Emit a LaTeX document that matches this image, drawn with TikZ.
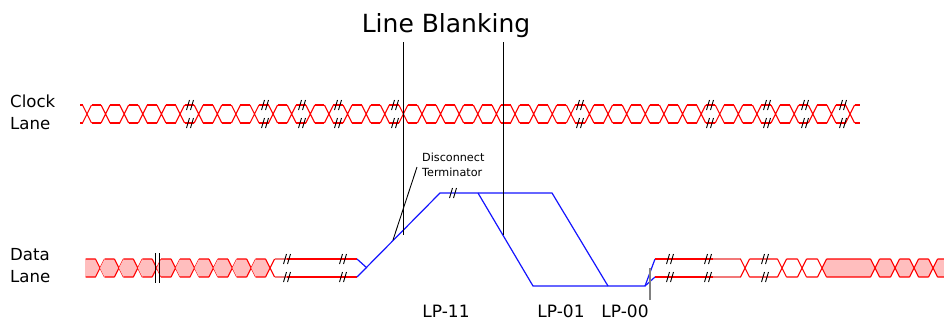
\documentclass[tikz,border=0pt]{standalone}
\usepackage{fontspec}
\setmainfont{DejaVu Sans}
\definecolor{lanered}{RGB}{255,0,0}
\definecolor{lanepink}{RGB}{255,190,190}
\definecolor{fadered}{RGB}{242,120,120}
\definecolor{lpblue}{RGB}{20,20,255}
\tikzset{
  cut/.pic={\draw[black, line width=0.9pt] (-3.5,5) -- (-0.5,-5) (0.5,5) -- (3.5,-5);}
}
\begin{document}
\begin{tikzpicture}[x=1pt, y=-1pt,
  bits/.style={lanered, line width=1.1pt},
  faded/.style={fadered, line width=1.1pt},
  stopstate/.style={lanered, line width=2.2pt},
  lpline/.style={lpblue, line width=1.2pt},
  marker/.style={black, line width=0.9pt},
  lbl/.style={inner sep=0pt, align=left, anchor=base west, font=\fontsize{16.6}{22}\selectfont},
  lpname/.style={inner sep=0pt, anchor=base, font=\fontsize{17}{20}\selectfont}]
  \useasboundingbox (0,0) rectangle (944,322);
  % lane names (anchored at the last line)
  \node[lbl] (clk) at (10,129) {Clock\\Lane};
  \node[lbl] (dat) at (10,282) {Data\\Lane};

  % clock lane
  \foreach \k in {0,...,41} {
    \pgfmathsetmacro\c{87+18.61*\k}
    \draw[bits] (\c-4.5,105) -- (\c+4.5,123) (\c-4.5,123) -- (\c+4.5,105);
  }
  \foreach \k in {0,...,40} {
    \pgfmathsetmacro\c{87+18.61*\k}
    \draw[bits] (\c+4.5,105) -- (\c+14.11,105) (\c+4.5,123) -- (\c+14.11,123);
  }
  \draw[bits] (80,105) -- (82.5,105) (80,123) -- (82.5,123)
              (854.5,105) -- (860,105) (854.5,123) -- (860,123);
  \foreach \b in {190,265,302,338,395,580,710,767,805,843} {
    \pic at (\b,105) {cut};
    \pic at (\b,123) {cut};
  }

  % data lane, high speed part before blanking
  \begin{scope}
    \clip (85,240) rectangle (300,300);
    \foreach \k in {-1,...,8} {
      \pgfmathsetmacro\a{100+18.9*\k}
      \pgfmathsetmacro\b{\a+18.9}
      \fill[lanepink] (\a,268) -- (\a+4.5,259) -- (\b-4.5,259) -- (\b,268)
                      -- (\b-4.5,277) -- (\a+4.5,277) -- cycle;
      \draw[bits] (\a+4.5,259) -- (\b-4.5,259) (\a+4.5,277) -- (\b-4.5,277)
                  (\b-4.5,259) -- (\b+4.5,277) (\b-4.5,277) -- (\b+4.5,259);
    }
  \end{scope}
  \draw[marker] (155,253) -- (155,283) (159,253) -- (159,283);
  \draw[faded] (274.6,259) -- (287,259) (274.6,277) -- (287,277);
  \draw[stopstate] (287,259) -- (357,259) (287,277) -- (357,277);
  \foreach \b in {287,343} {
    \pic at (\b,259) {cut};
    \pic at (\b,277) {cut};
  }

  % low power states
  \coordinate (dpS) at (357,259);
  \coordinate (dnS) at (357,277);
  \coordinate (join) at (367,268);
  \coordinate (up) at (440,193);
  \coordinate (dpF) at (478,193);
  \coordinate (dnF) at (552,193);
  \coordinate (dpL) at (533,286);
  \coordinate (dnL) at (608,286);
  \coordinate (low) at (645,286);
  \coordinate (dpE) at (655,259);
  \coordinate (dnE) at (655,277);
  \draw[lpline] (dpS) -- (join);
  \draw[lpline] (dnS) -- (up) -- (dnF) -- (dnL);
  \draw[lpline] (dpF) -- (dpL) -- (low) -- (dpE);
  \draw[lpline] (low) -- (dnE);
  \pic at (453,193) {cut};
  \draw[gray, line width=1.4pt] (650,268) -- (650,300);

  % data lane after blanking
  \draw[stopstate] (dpE) -- (713,259) (dnE) -- (713,277);
  \draw[faded] (713,259) -- (740.5,259) (713,277) -- (740.5,277);
  \foreach \a/\b in {822/875,875/895,895/914,914/933,933/960}
    \fill[lanepink] (\a,268) -- (\a+4.5,259) -- (\b-4.5,259) -- (\b,268)
                    -- (\b-4.5,277) -- (\a+4.5,277) -- cycle;
  \foreach \a/\b in {745/782,782/802,802/822,822/875,875/895,895/914,914/933,933/960}
    \draw[bits] (\a-4.5,259) -- (\a+4.5,277) (\a-4.5,277) -- (\a+4.5,259)
                (\a+4.5,259) -- (\b-4.5,259) (\a+4.5,277) -- (\b-4.5,277);
  \foreach \b in {670,708,765} {
    \pic at (\b,259) {cut};
    \pic at (\b,277) {cut};
  }

  % blanking marks and labels
  \node[inner sep=0pt, anchor=base, font=\fontsize{25}{30}\selectfont] (blank) at (446,32) {Line Blanking};
  \draw[marker] (403,42) -- (403,235) (503,42) -- (503,235);
  \node[inner sep=0pt, align=left, anchor=base west, font=\fontsize{11.2}{15}\selectfont] (term) at (422,176.7) {Disconnect\\Terminator};
  \draw[marker] (417,167) -- (393,240);
  \node[lpname] (lp11) at (446,317) {LP-11};
  \node[lpname] (lp01) at (561,317) {LP-01};
  \node[lpname] (lp00) at (625,317) {LP-00};
\end{tikzpicture}
\end{document}
